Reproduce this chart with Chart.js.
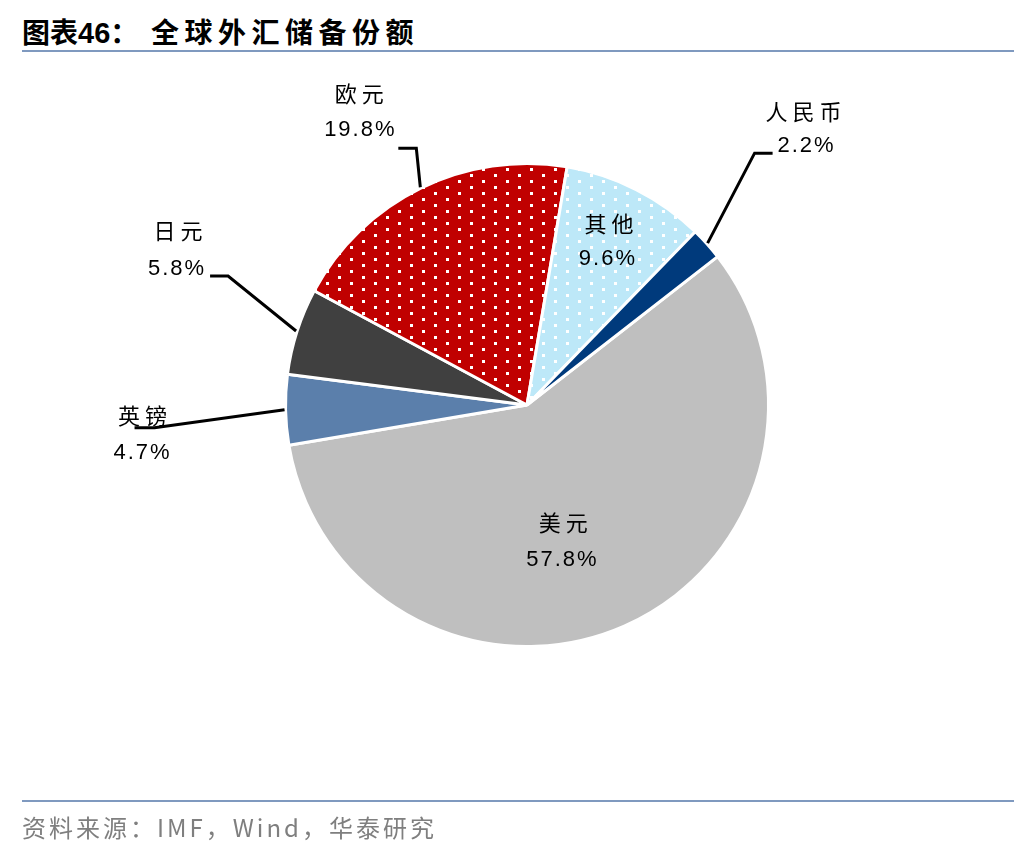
<!DOCTYPE html>
<html>
<head>
<meta charset="utf-8">
<script src="https://cdn.jsdelivr.net/npm/chart.js@4.4.1/dist/chart.umd.min.js"></script>
<style>
  html, body { margin: 0; padding: 0; background: #fff; }
  body { width: 1036px; height: 852px; position: relative; overflow: hidden; }
  .title {
    position: absolute; left: 22px; top: 11px;
    font: bold 28px "Noto Sans CJK SC", sans-serif; color: #000; white-space: pre;
  }
  .title .num { font-family: "Liberation Sans", Arial, sans-serif; font-size: 29px; }
  .title .rest { letter-spacing: 5.5px; }
  .rule { position: absolute; left: 22px; width: 992px; height: 2px; background: #7f99bf; }
  .footer {
    position: absolute; left: 22px; top: 809px;
    font: 24px "Noto Sans CJK SC", sans-serif; color: #7f7f7f; letter-spacing: 3px;
  }
  #wrap { position: absolute; left: 0; top: 0; width: 1036px; height: 852px; }
</style>
</head>
<body>
<div class="title">图表<span class="num">46</span>：  <span class="rest">全球外汇储备份额</span></div>
<div class="rule" style="top:50px"></div>
<div id="wrap"><canvas id="pie" width="1036" height="852"></canvas></div>
<div class="rule" style="top:800px"></div>
<div class="footer">资料来源：IMF，Wind，华泰研究</div>

<script>
// data (clockwise from the 美元 slice)
const names  = ["美元", "英镑", "日元", "欧元", "其他", "人民币"];
const shares = [57.8, 4.7, 5.8, 19.8, 9.6, 2.2];

const colors = ["#bfbfbf", "#5b7fab", "#404040", "#c00000", "#bde8f8", "#003a7c"];
const dotted = [false, false, false, true, true, false];

// label placement, relative to an anchor on each slice
// inside: anchor at radius fraction `r`; outside: anchor just past the rim, with a leader
const labelLayout = [
  { inside: true,  r: 0.6,  name: [-22, -15], value: [-24, 22] },
  { inside: false, elbow: [-130, 18], end: [-150, 18], name: [-142, 6],   value: [-143, 43] },
  { inside: false, elbow: [-68, -55], end: [-86, -55], name: [-118, -100], value: [-120, -62] },
  { inside: false, elbow: [-4, -39],  end: [-22, -39], name: [-61, -94],  value: [-61, -57] },
  { inside: true,  r: 0.75, name: [0, -20],    value: [-2, 16] },
  { inside: false, elbow: [47, -90],  end: [65, -90],  name: [96, -132],  value: [98, -97] },
];

function dotPattern(bg) {
  const c = document.createElement("canvas");
  c.width = 24; c.height = 12;
  const g = c.getContext("2d");
  g.fillStyle = bg;
  g.fillRect(0, 0, 24, 12);
  g.fillStyle = "#ffffff";
  g.fillRect(2, 0, 3, 3);
  g.fillRect(14, 6, 3, 3);
  return document.getElementById("pie").getContext("2d").createPattern(c, "repeat");
}

const fills = colors.map((c, i) => dotted[i] ? dotPattern(c) : c);

const sliceLabels = {
  id: "sliceLabels",
  afterDatasetsDraw(chart) {
    const ctx = chart.ctx;
    const arcs = chart.getDatasetMeta(0).data;
    ctx.save();
    arcs.forEach((arc, i) => {
      const { x, y, startAngle, endAngle, outerRadius } =
        arc.getProps(["x", "y", "startAngle", "endAngle", "outerRadius"], true);
      const mid = (startAngle + endAngle) / 2;
      const lay = labelLayout[i];
      const rr = lay.inside ? outerRadius * lay.r : outerRadius + 1;
      const ax = x + Math.cos(mid) * rr;
      const ay = y + Math.sin(mid) * rr;

      if (!lay.inside) {
        ctx.beginPath();
        ctx.moveTo(ax, ay);
        ctx.lineTo(ax + lay.elbow[0], ay + lay.elbow[1]);
        ctx.lineTo(ax + lay.end[0], ay + lay.end[1]);
        ctx.strokeStyle = "#000";
        ctx.lineWidth = 3;
        ctx.lineJoin = "miter";
        ctx.stroke();
      }

      ctx.fillStyle = "#000";
      ctx.textAlign = "center";
      ctx.textBaseline = "middle";
      ctx.font = '22px "Noto Sans CJK SC"';
      ctx.letterSpacing = "5px";
      ctx.fillText(names[i], ax + lay.name[0] + 2.5, ay + lay.name[1]);
      ctx.font = '22px "Liberation Sans"';
      ctx.letterSpacing = "2px";
      ctx.fillText(shares[i].toFixed(1) + "%", ax + lay.value[0] + 1, ay + lay.value[1]);
    });
    ctx.restore();
  }
};

new Chart(document.getElementById("pie"), {
  type: "pie",
  data: {
    labels: names,
    datasets: [{
      data: shares,
      backgroundColor: fills,
      borderColor: "#ffffff",
      borderWidth: 3,
      hoverOffset: 0
    }]
  },
  options: {
    responsive: false,
    animation: false,
    rotation: 52.1,
    layout: { padding: { left: 284, right: 266, top: 162, bottom: 204 } },
    plugins: {
      legend: { display: false },
      tooltip: { enabled: false }
    }
  },
  plugins: [sliceLabels]
});
</script>
</body>
</html>
